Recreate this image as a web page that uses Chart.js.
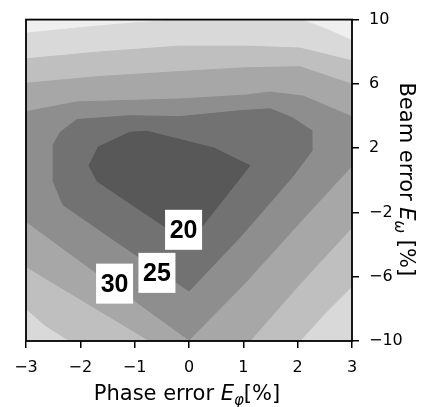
<!DOCTYPE html>
<html>
<head>
<meta charset="utf-8">
<script src="https://cdn.jsdelivr.net/npm/chart.js@4.4.1/dist/chart.umd.min.js"></script>
<style>
  html, body { margin: 0; padding: 0; background: #fff; }
</style>
</head>
<body>
<canvas id="contour" width="428" height="407"></canvas>
<script>
// band upper bounds and fills (lightest band = area above 45)
const levels = [20, 25, 30, 35, 40, 45];
const bandColors = ['#585858', '#727272', '#8e8e8e', '#a7a7a7', '#bfbfbf', '#d9d9d9'];
const topColor = '#efefef';

// outlines of the regions below each level, [phase error %, beam error %]
const below20 = [[-1.09, 2.99], [-0.77, 3.05], [0.46, 2.01], [1.12, 0.91], [0, -3.9],
  [-1.69, -0.06], [-1.84, 0.91], [-1.67, 2.07]];
const below25 = [[-2.5, 2.2], [-2.37, 2.99], [-2.06, 3.78], [-1.09, 4.02], [-0.17, 3.96],
  [0.94, 4.33], [1.49, 4.45], [1.9, 3.9], [2.25, 3.11], [2.26, 1.83], [1.91, 0.24],
  [1.49, -1.4], [0.94, -3.54], [0, -6.89], [-1.33, -3.84], [-2.32, -1.52], [-2.5, -0.06]];
const below30 = [[-3, 4.27], [-2.06, 4.88], [-0.17, 5.06], [1.03, 5.3], [1.49, 5.49],
  [2.1, 5.24], [3, 3.96], [3, 0.91], [2.04, -2.62], [1.03, -6.4], [0, -9.94],
  [-1.4, -6.52], [-3, -2.56]];
const below35 = [[-3, 6.04], [-1.64, 6.46], [-0.17, 6.77], [1.03, 7.0], [2.04, 7.07],
  [3, 5.98], [3, -2.93], [2.04, -6.46], [1.12, -10], [-0.72, -10], [-0.99, -9.45],
  [-2.01, -7.38], [-3, -5.37]];
const below40 = [[-3, 7.56], [-1.64, 7.99], [-0.17, 8.35], [1.03, 8.35], [2.04, 8.23],
  [3, 7.44], [3, -6.59], [2.5, -8.29], [2.04, -10], [-2.19, -10], [-2.65, -9.02], [-3, -7.99]];
const below45 = [[-3, 9.15], [-2, 9.5], [-1, 9.8], [0, 10], [2.05, 10], [2.5, 9.45],
  [3, 8.7], [3, -10], [-3, -10]];
const regions = [below20, below25, below30, below35, below40, below45];

const xTicks = [-3, -2, -1, 0, 1, 2, 3];
const yTicks = [-10, -6, -2, 2, 6, 10];

// contour labels
const labelValues = [20, 25, 30];
const labelX = [-0.1, -0.59, -1.37];
const labelY = [-3.08, -5.76, -6.43];

const minus = v => String(v).replace('-', '\u2212');

const datasets = regions.map((pts, i) => ({
  label: '< ' + levels[i],
  data: pts.concat([pts[0]]).map(p => ({ x: p[0], y: p[1] })),
  showLine: true,
  fill: 'shape',
  backgroundColor: bandColors[i],
  borderColor: bandColors[i],
  borderWidth: 1,
  pointRadius: 0,
  tension: 0
}));

const plotBack = {
  id: 'plotBack',
  beforeDatasetsDraw(chart) {
    const { ctx, chartArea: a } = chart;
    ctx.save();
    ctx.fillStyle = topColor;
    ctx.fillRect(a.left, a.top, a.right - a.left, a.bottom - a.top);
    ctx.restore();
  },
  afterDatasetsDraw(chart) {
    const { ctx, chartArea: a, scales } = chart;
    ctx.save();
    ctx.strokeStyle = '#000';
    ctx.lineWidth = 1.8;
    ctx.strokeRect(a.left, a.top, a.right - a.left, a.bottom - a.top);
    // contour labels
    ctx.font = 'bold 25px "Liberation Sans", Arial, sans-serif';
    ctx.textAlign = 'center';
    ctx.textBaseline = 'middle';
    labelValues.forEach((v, i) => {
      const px = scales.x.getPixelForValue(labelX[i]);
      const py = scales.y.getPixelForValue(labelY[i]);
      ctx.fillStyle = '#fff';
      ctx.fillRect(px - 18.5, py - 20, 37, 40);
      ctx.fillStyle = '#000';
      ctx.fillText(String(v), px, py + 1);
    });
    ctx.restore();
  }
};

function richText(ctx, parts, x, y) {
  let total = 0;
  parts.forEach(p => { ctx.font = p.font; total += ctx.measureText(p.text).width; });
  let cx = x - total / 2;
  parts.forEach(p => {
    ctx.font = p.font;
    ctx.fillText(p.text, cx, y + (p.dy || 0));
    cx += ctx.measureText(p.text).width;
  });
}

const axisTitles = {
  id: 'axisTitles',
  afterDraw(chart) {
    const { ctx, chartArea: a } = chart;
    const reg = '21px "DejaVu Sans", sans-serif';
    const ital = 'italic 21px "DejaVu Sans", sans-serif';
    const sub = 'italic 15px "DejaVu Sans", sans-serif';
    ctx.save();
    ctx.fillStyle = '#000';
    ctx.textAlign = 'left';
    ctx.textBaseline = 'alphabetic';
    richText(ctx, [
      { text: 'Phase error ', font: reg },
      { text: 'E', font: ital },
      { text: '\u03c6', font: sub, dy: 5 },
      { text: '[%]', font: reg }
    ], (a.left + a.right) / 2 - 2, 400);
    ctx.translate(400, (a.top + a.bottom) / 2 - 1);
    ctx.rotate(Math.PI / 2);
    richText(ctx, [
      { text: 'Beam error ', font: reg },
      { text: 'E', font: ital },
      { text: '\u03c9', font: sub, dy: 5 },
      { text: ' [%]', font: reg }
    ], 0, 0);
    ctx.restore();
  }
};

const tickFont = { family: 'DejaVu Sans', size: 16 };

new Chart(document.getElementById('contour'), {
  type: 'scatter',
  data: { datasets },
  options: {
    responsive: false,
    animation: false,
    layout: { padding: { left: 26, top: 13, right: 0, bottom: 0 } },
    plugins: { legend: { display: false }, tooltip: { enabled: false } },
    scales: {
      x: {
        type: 'linear', position: 'bottom', min: -3, max: 3,
        afterBuildTicks: s => { s.ticks = xTicks.map(v => ({ value: v })); },
        afterFit: s => { s.height = 66; },
        grid: { drawOnChartArea: false, drawTicks: true, tickLength: 7, color: '#000', lineWidth: 1.5 },
        border: { display: false },
        ticks: { color: '#000', font: tickFont, padding: 10, maxRotation: 0, autoSkip: false, callback: minus }
      },
      y: {
        type: 'linear', position: 'right', min: -10, max: 10,
        afterBuildTicks: s => { s.ticks = yTicks.map(v => ({ value: v })); },
        afterFit: s => { s.width = 76; },
        grid: { drawOnChartArea: false, drawTicks: true, tickLength: 7, color: '#000', lineWidth: 1.5 },
        border: { display: false },
        ticks: { color: '#000', font: tickFont, padding: 10, autoSkip: false, callback: minus }
      }
    }
  },
  plugins: [plotBack, axisTitles]
});
</script>
</body>
</html>
